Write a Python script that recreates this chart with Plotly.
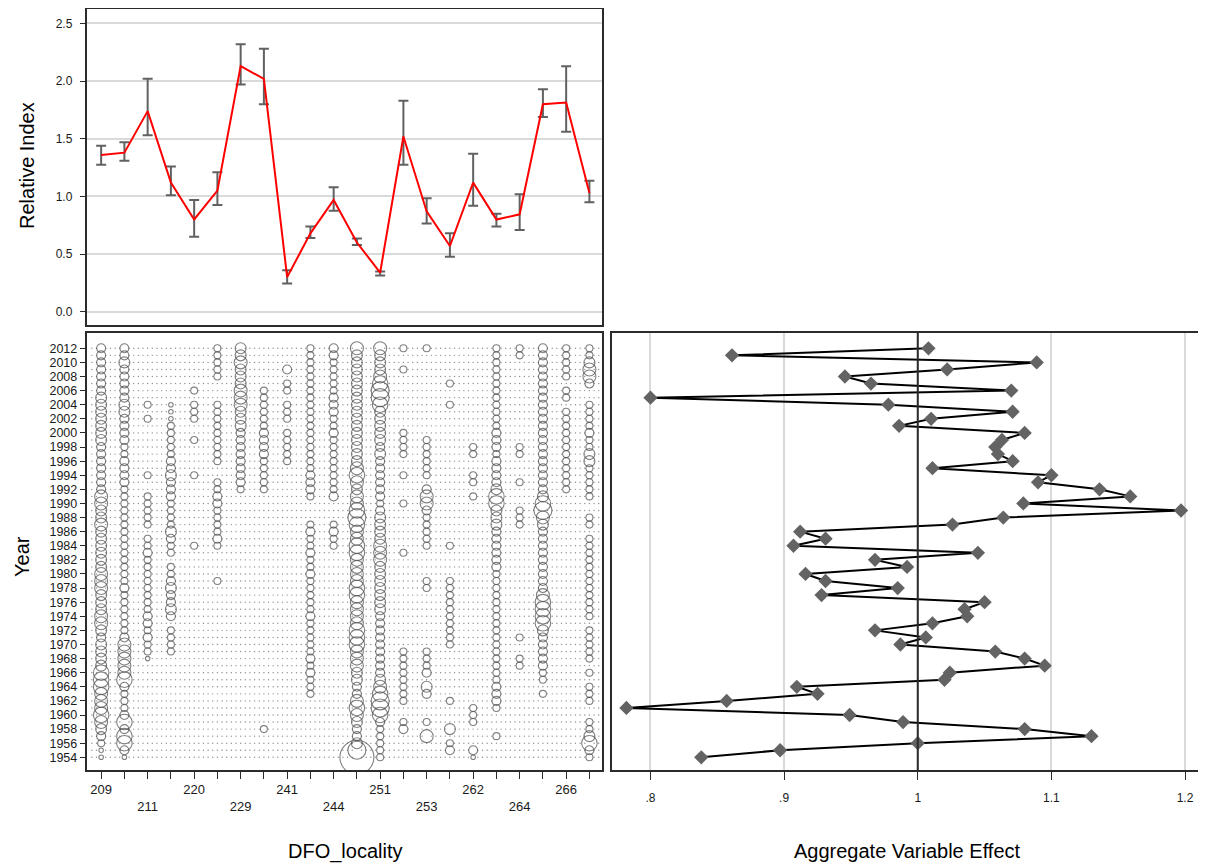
import numpy as np
import plotly.graph_objects as go

# ---------------- data ----------------
tick_labels = ["209", "", "211", "", "220", "", "229", "", "241", "", "244", "",
               "251", "", "253", "", "262", "", "264", "", "266", ""]

rel_index = [1.36, 1.38, 1.74, 1.12, 0.80, 1.05, 2.13, 2.02, 0.30, 0.68, 0.97,
             0.60, 0.34, 1.52, 0.87, 0.57, 1.12, 0.80, 0.845, 1.80, 1.815, 1.03]
ci_upper = [1.44, 1.47, 2.02, 1.26, 0.97, 1.21, 2.32, 2.28, 0.36, 0.74, 1.08,
            0.635, 0.35, 1.83, 0.985, 0.68, 1.37, 0.85, 1.02, 1.93, 2.13, 1.135]
ci_lower = [1.275, 1.31, 1.53, 1.01, 0.65, 0.925, 1.97, 1.80, 0.245, 0.64, 0.875,
            0.578, 0.315, 1.275, 0.765, 0.477, 0.92, 0.74, 0.71, 1.69, 1.56, 0.95]

years = list(range(2012, 1953, -1))  # top to bottom

agg_effect = [1.008, 0.861, 1.089, 1.022, 0.9455, 0.965, 1.070, 0.800, 0.978, 1.071,
              1.010, 0.986, 1.080, 1.063, 1.058, 1.060, 1.071, 1.011, 1.100, 1.090,
              1.136, 1.159, 1.079, 1.197, 1.064, 1.026, 0.912, 0.931, 0.907, 1.045,
              0.968, 0.992, 0.916, 0.931, 0.985, 0.928, 1.050, 1.035, 1.037, 1.011,
              0.968, 1.006, 0.987, 1.058, 1.080, 1.095, 1.024, 1.020, 0.9095, 0.925,
              0.857, 0.782, 0.949, 0.989, 1.080, 1.130, 1.000, 0.897, 0.838]

# bubble size class per column, years 2012 -> 1954 ('.' = no record)
bubble_codes = [
    "3333333444 4444333333 3554454444 4455544455 4344446665 556543211",
    "3343333344 3333223333 2222222222 2222322222 2355555632 223636631",
    "........2. 2.......2. .22222.223 2222222233 23221..... .........",
    "........11 1222223343 3322224322 .22343343. 2222...... .........",
    "......2.22 2..2....2. ........2. .......... .......... .........",
    "22222...22 2222222..2 233222232. ...2...... .......... .........",
    "4454445554 4433333333 2......... .......... .......... .........",
    "......2222 2233332222 2......... .......... .......... ....2....",
    "...3.22.22 2.22222... .......... .......... .......... .........",
    "2222222222 2222222233 32...23223 2232222232 2222323222 .........",
    "3322222333 2232222222 23...2322. .......... .......... .........",
    "5444444444 4444444565 4556765566 5555665555 6665554433 565433479",
    "5444567764 4444343333 3323444455 5444444433 3333333456 776322222",
    "2..2...... ..2222..2. ..2......2 .......... ...2222222 2..23....",
    "2......... ...222222. 355322222. ...22..... ...2223.43 ...2.5...",
    ".....2..2. .......... ........2. ...2222222 222....... 2...4.23.",
    ".......... ....22..22 .2........ .......... .......... .222...31",
    "2222222222 2233323333 4664443333 3322222222 2222222233 32...2...",
    "22........ ....22...2 ...222.... .......... .2..22.... .........",
    "3333333333 3333333333 3467543333 3333356666 43333322.2 .........",
    "22222.22.2 2222222222 2......... .......... .......... .........",
    "224553..22 2232244222 22..22.222 222222222. 22222.2.22 2..224632",
]
size_px = {"1": 4.5, "2": 7, "3": 9, "4": 11, "5": 13, "6": 15.5, "7": 18, "8": 23, "9": 34}

effect_ticks = [0.8, 0.9, 1.0, 1.1, 1.2]
effect_ticktext = [".8", ".9", "1", "1.1", "1.2"]

# ---------------- figure ----------------
OX, OY = 8, 8          # page body margin
W, H = 1198, 859
FONT = "Liberation Sans, Arial, sans-serif"
ncol = len(tick_labels)
cols = list(range(ncol))

fig = go.Figure()

# top panel: error bars + red line
up = [u - r for u, r in zip(ci_upper, rel_index)]
dn = [r - l for r, l in zip(rel_index, ci_lower)]
fig.add_trace(go.Scatter(
    x=cols, y=rel_index, mode="markers", marker=dict(size=1, opacity=0),
    error_y=dict(type="data", symmetric=False, array=up, arrayminus=dn,
                 color="#616161", thickness=2, width=5),
    xaxis="x", yaxis="y", showlegend=False, hoverinfo="skip"))
fig.add_trace(go.Scatter(
    x=cols, y=rel_index, mode="lines", line=dict(color="#ff0000", width=2),
    xaxis="x", yaxis="y", showlegend=False))

# bottom-left: dot grid + bubbles
dot_x, dot_y, bx, by, bs = [], [], [], [], []
for c, code in enumerate(bubble_codes):
    code = code.replace(" ", "")
    for yi, yr in enumerate(years):
        ch = code[yi]
        for k in (-2, -1, 0, 1, 2):
            if k == 0 and ch != ".":
                continue
            dot_x.append(c + 0.2 * k)
            dot_y.append(yr)
        if ch != ".":
            bx.append(c)
            by.append(yr)
            bs.append(size_px[ch])

fig.add_trace(go.Scatter(
    x=dot_x, y=dot_y, mode="markers",
    marker=dict(size=1.4, color="#8f8f8f"),
    xaxis="x2", yaxis="y2", showlegend=False, hoverinfo="skip"))
fig.add_trace(go.Scatter(
    x=bx, y=by, mode="markers",
    marker=dict(symbol="circle-open", size=bs, color="#4a4a4a", line=dict(width=1.1)),
    xaxis="x2", yaxis="y2", showlegend=False))

# bottom-right: aggregate effect
fig.add_trace(go.Scatter(
    x=agg_effect, y=years, mode="lines+markers",
    line=dict(color="#000000", width=2),
    marker=dict(symbol="diamond", size=11, color="#636363"),
    xaxis="x3", yaxis="y3", showlegend=False))

fig.add_shape(type="line", xref="x3", yref="y3 domain", x0=1, x1=1, y0=0, y1=1,
              line=dict(color="#2b2b2b", width=2))


def px_x(a, b):
    return [(a - OX) / W, (b - OX) / W]


def px_y(top, bottom):
    return [1 - (bottom - OY) / H, 1 - (top - OY) / H]


xr = [-0.63, 21.52]
yr_range = [1952.2, 2014.17]
border = dict(showline=True, mirror=True, linecolor="#2b2b2b", linewidth=1.5)
tickfont = dict(family=FONT, size=12, color="#1a1a1a")

fig.update_layout(
    width=W, height=H, margin=dict(l=0, r=0, t=0, b=0),
    paper_bgcolor="white", plot_bgcolor="white", font=dict(family=FONT),
    xaxis=dict(domain=px_x(86.5, 601.5), range=xr, showticklabels=False, ticks="",
               showgrid=False, zeroline=False, anchor="y", **border),
    yaxis=dict(domain=px_y(8.5, 325), range=[-0.115, 2.63],
               tickvals=[0, 0.5, 1.0, 1.5, 2.0, 2.5], tickformat=".1f",
               ticks="outside", ticklen=5, tickcolor="#2b2b2b", ticklabelstandoff=5,
               showgrid=True, gridcolor="#dadada", gridwidth=2, zeroline=False,
               tickfont=tickfont, anchor="x", **border),
    xaxis2=dict(domain=px_x(86.5, 601.5), range=xr, tickvals=cols,
                ticktext=[(t if i % 4 == 0 else "<br>" + t) for i, t in enumerate(tick_labels)],
                ticks="outside", ticklen=7, tickcolor="#2b2b2b",
                showgrid=False, zeroline=False, anchor="y2",
                tickfont=dict(family=FONT, size=13, color="#1a1a1a"), **border),
    yaxis2=dict(domain=px_y(333, 770), range=yr_range,
                tickvals=list(range(1954, 2013, 2)), ticktext=[str(v) for v in range(1954, 2013, 2)],
                ticks="outside", ticklen=5, tickcolor="#2b2b2b",
                showgrid=False, zeroline=False, anchor="x2",
                tickfont=dict(family=FONT, size=12.5, color="#1a1a1a"), **border),
    xaxis3=dict(domain=px_x(612, 1200), range=[0.7712, 1.2112],
                tickvals=effect_ticks, ticktext=effect_ticktext,
                ticks="outside", ticklen=8, tickcolor="#2b2b2b", ticklabelstandoff=8,
                showgrid=True, gridcolor="#dadada", gridwidth=2, zeroline=False,
                anchor="y3", tickfont=tickfont, **border),
    yaxis3=dict(domain=px_y(333, 770), range=yr_range, showticklabels=False, ticks="",
                showgrid=False, zeroline=False, anchor="x3", **border),
)

title_font = dict(family=FONT, size=20, color="#000000")


def ann(text, x, y, angle=0):
    fig.add_annotation(text=text, x=(x - OX) / W, y=1 - (y - OY) / H, xref="paper", yref="paper",
                       textangle=angle, showarrow=False, font=title_font,
                       xanchor="center", yanchor="middle")


ann("Relative Index", 27, 166, -90)
ann("Year", 22, 557, -90)
ann("DFO_locality", 345, 851)
ann("Aggregate Variable Effect", 907, 851)

fig.write_html("out.html")
